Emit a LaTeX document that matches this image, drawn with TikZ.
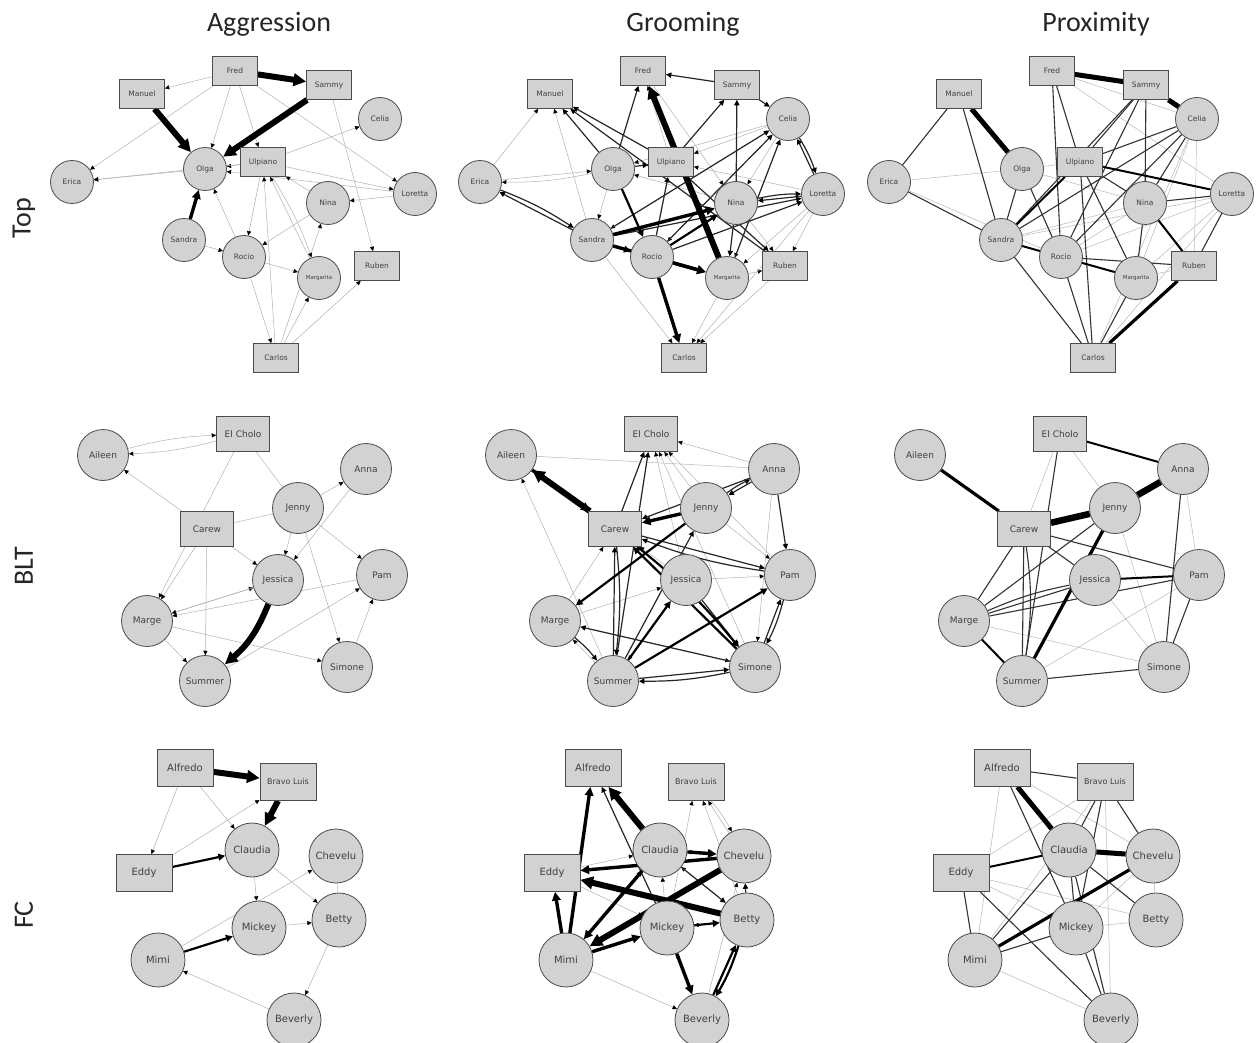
\documentclass[tikz,border=0pt]{standalone}
\usepackage{fontspec}
\newfontfamily\nf{DejaVu Sans}
\newfontfamily\hf{Carlito}
\usetikzlibrary{arrows.meta,backgrounds}
\tikzset{
 >={Triangle[length=3.6pt 1.5,width=3.4pt 1.5,color=black]},
 nd/.style={draw=black!70,fill=gray!35,line width=0.8pt,inner sep=0pt,text=black!75},
 tc/.style={nd,circle,minimum size=43pt,font=\nf\fontsize{7.5}{8}\selectfont},
 tb/.style={nd,rectangle,minimum width=45pt,minimum height=29pt,font=\nf\fontsize{7.5}{8}\selectfont},
 mc/.style={nd,circle,minimum size=51pt,font=\nf\fontsize{9}{10}\selectfont},
 mb/.style={nd,rectangle,minimum width=53pt,minimum height=35pt,font=\nf\fontsize{9}{10}\selectfont},
 fc/.style={nd,circle,minimum size=54pt,font=\nf\fontsize{10}{11}\selectfont},
 fb/.style={nd,rectangle,minimum width=56pt,minimum height=37pt,font=\nf\fontsize{10}{11}\selectfont},
 w1/.style={->,draw=gray!60,line width=0.5pt},
 w2/.style={->,draw=black!85,line width=1.2pt},
 w3/.style={->,draw=black,line width=2.2pt},
 w4/.style={->,draw=black,line width=3.4pt},
 w5/.style={->,draw=black,line width=6pt},
 b1/.style={w1,bend left=6},
 b2/.style={w2,bend left=6},
 b3/.style={w3,bend left=6},
 u1/.style={draw=gray!55,line width=0.5pt},
 u2/.style={draw=black!80,line width=1.1pt},
 u3/.style={draw=black,line width=2pt},
 u4/.style={draw=black,line width=3.2pt},
 u5/.style={draw=black,line width=5pt},
 u6/.style={draw=black,line width=6.5pt},
 hd/.style={font=\hf\fontsize{28}{32}\selectfont,text=black!85},
}
\newcommand\TopNodes[2]{%
\begin{scope}[xshift=#2pt]
\node[tb] (#1Fred) at (235,71) {Fred};
\node[tb] (#1Sammy) at (329,85) {Sammy};
\node[tb] (#1Manuel) at (142,94) {Manuel};
\node[tc] (#1Celia) at (380,119) {Celia};
\node[tb] (#1Ulpiano) at (263,162) {Ulpiano};
\node[tc] (#1Olga) at (205,169) {Olga};
\node[tc] (#1Erica) at (72,182) {Erica};
\node[tc] (#1Loretta) at (415,194) {Loretta};
\node[tc] (#1Nina) at (328,203) {Nina};
\node[tc] (#1Sandra) at (184,240) {Sandra};
\node[tc] (#1Rocio) at (244,257) {Rocio};
\node[tc,font=\nf\fontsize{5.5}{6}\selectfont] (#1Margarita) at (319,278) {Margarita};
\node[tb] (#1Ruben) at (377,266) {Ruben};
\node[tb] (#1Carlos) at (276,358) {Carlos};
\end{scope}}
\newcommand\BltNodes[2]{%
\begin{scope}[xshift=#2pt]
\node[mb] (#1Cholo) at (243,434) {El Cholo};
\node[mc] (#1Aileen) at (103,455) {Aileen};
\node[mc] (#1Anna) at (366,469) {Anna};
\node[mc] (#1Jenny) at (298,508) {Jenny};
\node[mb] (#1Carew) at (207,529) {Carew};
\node[mc] (#1Jessica) at (278,580) {Jessica};
\node[mc] (#1Pam) at (382,575) {Pam};
\node[mc] (#1Marge) at (147,621) {Marge};
\node[mc] (#1Simone) at (347,667) {Simone};
\node[mc] (#1Summer) at (205,681) {Summer};
\end{scope}}
\newcommand\FcNodes[2]{%
\begin{scope}[xshift=#2pt]
\node[fb] (#1Alfredo) at (185,768) {Alfredo};
\node[fb,font=\nf\fontsize{8}{9}\selectfont] (#1Bravo) at (288,782) {Bravo Luis};
\node[fb] (#1Eddy) at (144,873) {Eddy};
\node[fc] (#1Claudia) at (252,850) {Claudia};
\node[fc] (#1Chevelu) at (336,856) {Chevelu};
\node[fc] (#1Betty) at (339,920) {Betty};
\node[fc] (#1Mickey) at (259,928) {Mickey};
\node[fc] (#1Mimi) at (158,960) {Mimi};
\node[fc] (#1Beverly) at (294,1020) {Beverly};
\end{scope}}
\begin{document}
\begin{tikzpicture}[x=1pt,y=-1pt]
\useasboundingbox (0,0) rectangle (1256,1043);
\node[hd] (h1) at (269,24) {Aggression};
\node[hd] (h2) at (683,24) {Grooming};
\node[hd] (h3) at (1096,24) {Proximity};
\node[hd,rotate=90] (r1) at (24,218) {Top};
\node[hd,rotate=90] (r2) at (24,566) {BLT};
\node[hd,rotate=90] (r3) at (24,915) {FC};
\TopNodes{a}{0}\TopNodes{g}{408}\TopNodes{p}{817}
\BltNodes{a}{0}\BltNodes{g}{408}\BltNodes{p}{817}
\FcNodes{a}{0}\FcNodes{g}{408}\FcNodes{p}{817}
\begin{scope}[on background layer]
\fill[white] (0,0) rectangle (1256,1043);
% Top aggression
\foreach \s/\t/\w in {Fred/Manuel/w1,Fred/Erica/w1,Fred/Olga/w1,Fred/Ulpiano/w1,Fred/Loretta/w1,Sammy/Ruben/w1,Ulpiano/Celia/w1,Ulpiano/Loretta/w1,Loretta/Nina/w1,Loretta/Olga/w1,Nina/Rocio/w1,Sandra/Rocio/w1,Rocio/Margarita/w1,Ulpiano/Rocio/w1,Rocio/Olga/w1,Rocio/Carlos/w1,Carlos/Ulpiano/w1,Carlos/Margarita/w1,Carlos/Ruben/w1,Carlos/Nina/w1,Margarita/Ulpiano/w1,Ulpiano/Margarita/b1,Ulpiano/Olga/w1,Olga/Manuel/w1,Olga/Erica/w1,Ulpiano/Erica/w1,Nina/Ulpiano/w1,Fred/Sammy/w5,Manuel/Olga/w5,Sammy/Olga/w5,Sandra/Olga/w4}
  \draw[\w] (a\s) to (a\t);
% Top grooming
\foreach \s/\t/\w in {Erica/Manuel/w1,Erica/Olga/w1,Olga/Erica/b1,Sandra/Manuel/w1,Olga/Sandra/w1,Sandra/Carlos/w1,Margarita/Carlos/w1,Ruben/Carlos/w1,Celia/Ulpiano/w1,Loretta/Ruben/w1,Nina/Ruben/w1,Margarita/Ruben/w1,Celia/Olga/w1,Loretta/Ulpiano/w1,Celia/Rocio/w1,Loretta/Margarita/w1,Celia/Margarita/w1,Nina/Olga/w1,Ulpiano/Fred/w1,Fred/Nina/w1,Loretta/Carlos/w1,Celia/Nina/w1,Celia/Sandra/w1,Sammy/Fred/w2,Olga/Fred/w2,Ulpiano/Sammy/w2,Sammy/Celia/w2,Nina/Sammy/w2,Ulpiano/Manuel/w2,Olga/Manuel/w2,Ruben/Manuel/w2,Sandra/Erica/w2,Erica/Sandra/b2,Sandra/Celia/w2,Rocio/Celia/w2,Rocio/Loretta/w2,Sandra/Loretta/w2,Loretta/Nina/w2,Nina/Loretta/b2,Loretta/Celia/w2,Celia/Loretta/b2,Nina/Margarita/w2,Ulpiano/Ruben/w2,Margarita/Celia/w2,Rocio/Ulpiano/w2,Olga/Ulpiano/w2,Olga/Rocio/w3,Rocio/Nina/w3,Sandra/Rocio/w3,Rocio/Carlos/w4,Sandra/Margarita/w4,Rocio/Margarita/w4,Sandra/Nina/w4,Margarita/Fred/w5}
  \draw[\w] (g\s) to (g\t);
% Top proximity
\foreach \s/\t/\w in {Erica/Olga/u1,Erica/Rocio/u1,Fred/Celia/u1,Fred/Loretta/u1,Celia/Ruben/u1,Olga/Ulpiano/u1,Sandra/Nina/u1,Sandra/Loretta/u1,Rocio/Nina/u1,Rocio/Loretta/u1,Loretta/Margarita/u1,Loretta/Carlos/u1,Olga/Nina/u1,Celia/Margarita/u1,Ruben/Margarita/u1,Celia/Carlos/u1,Manuel/Erica/u2,Manuel/Sandra/u2,Erica/Sandra/u2,Fred/Ulpiano/u2,Sammy/Ulpiano/u2,Sammy/Sandra/u2,Sammy/Nina/u2,Celia/Ulpiano/u2,Celia/Sandra/u2,Ulpiano/Carlos/u2,Ulpiano/Margarita/u2,Ulpiano/Nina/u2,Olga/Sandra/u2,Olga/Rocio/u2,Sandra/Carlos/u2,Rocio/Ruben/u2,Rocio/Carlos/u2,Nina/Margarita/u2,Nina/Loretta/u2,Loretta/Ruben/u2,Margarita/Carlos/u2,Celia/Nina/u2,Celia/Rocio/u2,Sammy/Rocio/u2,Fred/Rocio/u2,Ulpiano/Loretta/u3,Ulpiano/Sandra/u3,Rocio/Margarita/u3,Nina/Ruben/u3,Sandra/Rocio/u3,Sammy/Celia/u5,Fred/Sammy/u5,Manuel/Olga/u5,Ruben/Carlos/u4}
  \draw[\w] (p\s) to (p\t);
% BLT aggression
\foreach \s/\t/\w in {Aileen/Cholo/b1,Cholo/Aileen/b1,Carew/Aileen/w1,Cholo/Marge/w1,Carew/Marge/w1,Carew/Summer/w1,Carew/Jessica/w1,Jenny/Anna/w1,Anna/Jessica/w1,Jenny/Jessica/w1,Jenny/Pam/w1,Jenny/Simone/w1,Marge/Jessica/w1,Jessica/Marge/w1,Pam/Marge/w1,Marge/Simone/w1,Marge/Summer/w1,Simone/Pam/w1,Summer/Pam/w1,Cholo/Jenny/u1,Jenny/Carew/u1}
  \draw[\w] (a\s) to (a\t);
\draw[w5,bend left=14] (aJessica) to (aSummer);
% BLT grooming
\foreach \s/\t/\w in {Anna/Aileen/u1,Summer/Aileen/w1,Jessica/Cholo/w1,Jenny/Cholo/w1,Simone/Cholo/w1,Pam/Cholo/w1,Anna/Cholo/w1,Jessica/Pam/w1,Marge/Jessica/w1,Marge/Carew/w1,Jenny/Pam/w1,Anna/Simone/w1,Summer/Marge/w1,Jessica/Summer/w1,Marge/Simone/w1,Jessica/Carew/w1,Carew/Cholo/w2,Summer/Cholo/w2,Anna/Pam/w2,Carew/Pam/w2,Pam/Carew/b2,Summer/Carew/w2,Carew/Summer/b2,Summer/Simone/w2,Simone/Summer/b2,Marge/Summer/b2,Simone/Marge/w2,Simone/Pam/w2,Pam/Simone/b2,Jessica/Simone/w2,Summer/Jenny/w2,Anna/Jenny/w2,Jenny/Anna/b2,Anna/Carew/w2,Summer/Jessica/w3,Summer/Pam/w3,Jenny/Marge/w3,Simone/Carew/w3,Carew/Simone/b3,Jenny/Carew/w4,Aileen/Carew/w4,Carew/Aileen/w5}
  \draw[\w] (g\s) to (g\t);
% BLT proximity
\foreach \s/\t/\w in {Cholo/Carew/u1,Cholo/Jenny/u1,Jenny/Simone/u1,Anna/Pam/u1,Pam/Summer/u1,Marge/Simone/u1,Jessica/Simone/u1,Cholo/Summer/u2,Carew/Marge/u2,Carew/Summer/u2,Carew/Jessica/u2,Carew/Pam/u2,Jessica/Marge/u2,Pam/Marge/u2,Pam/Simone/u2,Anna/Simone/u2,Summer/Simone/u2,Jenny/Marge/u2,Jessica/Pam/u3,Marge/Summer/u3,Jenny/Summer/u4,Aileen/Carew/u4,Cholo/Anna/u3,Anna/Jenny/u6,Jenny/Carew/u6}
  \draw[\w] (p\s) to (p\t);
\draw[u2,bend left=8] (pCarew) to (pSummer);
\draw[u2,bend left=6] (pMarge) to (pJessica);
% FC aggression
\foreach \s/\t/\w in {Alfredo/Eddy/w1,Alfredo/Claudia/w1,Eddy/Bravo/w1,Claudia/Mickey/w1,Claudia/Betty/w1,Mimi/Chevelu/w1,Mickey/Betty/w1,Betty/Beverly/w1,Beverly/Mimi/w1,Chevelu/Betty/u1,Eddy/Claudia/w3,Mimi/Mickey/w3,Alfredo/Bravo/w5,Bravo/Claudia/w5}
  \draw[\w] (a\s) to (a\t);
% FC grooming
\foreach \s/\t/\w in {Mimi/Beverly/w1,Chevelu/Bravo/w1,Bravo/Chevelu/b1,Mickey/Bravo/w1,Betty/Bravo/w1,Beverly/Mickey/w1,Beverly/Chevelu/w1,Eddy/Mickey/w1,Betty/Claudia/w1,Mickey/Claudia/w1,Chevelu/Claudia/w1,Eddy/Claudia/w1,Betty/Mickey/w1,Mickey/Alfredo/w2,Betty/Chevelu/w2,Claudia/Betty/w2,Mimi/Claudia/w2,Beverly/Betty/w3,Betty/Beverly/b3,Mickey/Betty/w3,Mimi/Alfredo/w4,Mimi/Eddy/w4,Claudia/Chevelu/w4,Mimi/Mickey/w4,Claudia/Mimi/w4,Mickey/Beverly/w4,Chevelu/Eddy/w4,Claudia/Alfredo/w5,Chevelu/Mimi/w5,Betty/Eddy/w5}
  \draw[\w] (g\s) to (g\t);
% FC proximity
\foreach \s/\t/\w in {Alfredo/Mimi/u1,Alfredo/Chevelu/u1,Bravo/Eddy/u1,Bravo/Mimi/u1,Bravo/Beverly/u1,Eddy/Mickey/u1,Eddy/Betty/u1,Mickey/Betty/u1,Mimi/Beverly/u1,Chevelu/Betty/u1,Chevelu/Mickey/u1,Alfredo/Bravo/u2,Alfredo/Mickey/u2,Bravo/Claudia/u2,Bravo/Chevelu/u2,Bravo/Mickey/u2,Eddy/Mimi/u2,Eddy/Beverly/u2,Claudia/Mimi/u2,Claudia/Mickey/u2,Claudia/Betty/u2,Claudia/Beverly/u2,Mickey/Mimi/u2,Mickey/Beverly/u2,Eddy/Claudia/u3,Chevelu/Mimi/u4,Alfredo/Claudia/u5,Claudia/Chevelu/u5}
  \draw[\w] (p\s) to (p\t);
\end{scope}
\end{tikzpicture}
\end{document}
